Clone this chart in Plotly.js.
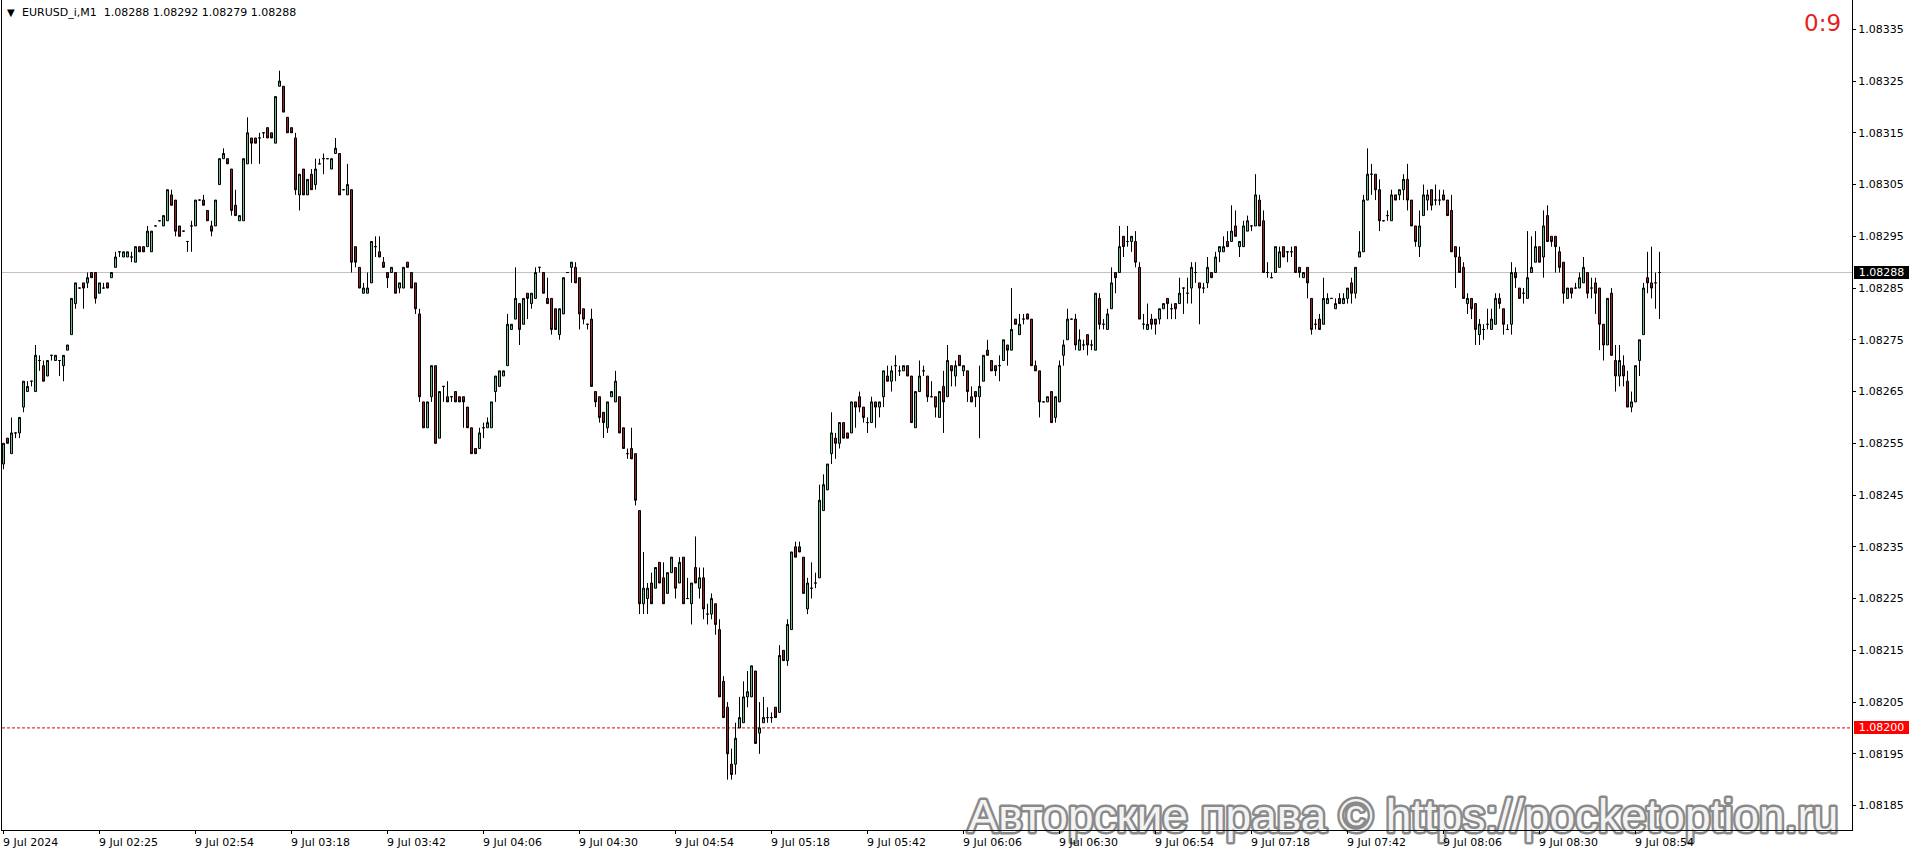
<!DOCTYPE html>
<html><head><meta charset="utf-8">
<script src="https://cdn.plot.ly/plotly-3.0.1.min.js"></script>
<style>
html,body{margin:0;padding:0;background:#fff;overflow:hidden}
#chart{width:1916px;height:854px}
text[style*="font-size: 46px"]{paint-order:stroke fill;stroke:#8a8a8a;stroke-width:5px;stroke-linejoin:round}
</style></head><body><div id="chart"></div>
<script>
// EURUSD_i, M1 candles
const open = [
1.08251,1.08256,1.08253,1.08257,1.08257,1.08262,1.08265,1.08267,1.08265,1.08271,
1.08270,1.08268,1.08272,1.08271,1.08271,1.08270,1.08273,1.08276,1.08282,1.08285,
1.08286,1.08286,1.08288,1.08288,1.08284,1.08285,1.08286,1.08287,1.08289,1.08292,
1.08291,1.08291,1.08291,1.08290,1.08293,1.08293,1.08293,1.08292,1.08297,1.08298,
1.08297,1.08298,1.08303,1.08302,1.08297,1.08296,1.08294,1.08297,1.08297,1.08302,
1.08302,1.08300,1.08297,1.08297,1.08305,1.08310,1.08310,1.08308,1.08301,1.08298,
1.08298,1.08309,1.08314,1.08314,1.08314,1.08315,1.08316,1.08315,1.08313,1.08324,
1.08324,1.08318,1.08316,1.08314,1.08303,1.08308,1.08303,1.08307,1.08305,1.08309,
1.08310,1.08310,1.08308,1.08311,1.08311,1.08304,1.08303,1.08304,1.08293,1.08289,
1.08284,1.08284,1.08286,1.08293,1.08292,1.08290,1.08288,1.08288,1.08288,1.08285,
1.08285,1.08290,1.08288,1.08286,1.08280,1.08263,1.08258,1.08264,1.08270,1.08256,
1.08266,1.08264,1.08264,1.08265,1.08264,1.08264,1.08262,1.08258,1.08254,1.08254,
1.08258,1.08258,1.08258,1.08265,1.08266,1.08268,1.08270,1.08277,1.08279,1.08282,
1.08278,1.08284,1.08282,1.08283,1.08289,1.08288,1.08283,1.08283,1.08281,1.08276,
1.08280,1.08288,1.08289,1.08289,1.08287,1.08281,1.08278,1.08279,1.08265,1.08264,
1.08261,1.08258,1.08264,1.08263,1.08264,1.08258,1.08253,1.08254,1.08253,1.08242,
1.08224,1.08225,1.08228,1.08227,1.08232,1.08229,1.08226,1.08230,1.08231,1.08228,
1.08233,1.08225,1.08224,1.08231,1.08227,1.08229,1.08222,1.08222,1.08224,1.08219,
1.08209,1.08204,1.08193,1.08193,1.08200,1.08201,1.08206,1.08206,1.08211,1.08199,
1.08201,1.08202,1.08202,1.08204,1.08203,1.08215,1.08213,1.08219,1.08235,1.08235,
1.08233,1.08223,1.08227,1.08228,1.08229,1.08242,1.08246,1.08253,1.08256,1.08255,
1.08259,1.08257,1.08257,1.08263,1.08264,1.08262,1.08259,1.08259,1.08263,1.08262,
1.08264,1.08268,1.08267,1.08270,1.08269,1.08269,1.08270,1.08268,1.08258,1.08265,
1.08269,1.08268,1.08264,1.08264,1.08260,1.08266,1.08264,1.08270,1.08268,1.08272,
1.08269,1.08269,1.08264,1.08265,1.08264,1.08267,1.08273,1.08271,1.08270,1.08270,
1.08271,1.08274,1.08273,1.08279,1.08276,1.08279,1.08280,1.08279,1.08270,1.08269,
1.08263,1.08263,1.08265,1.08260,1.08263,1.08272,1.08275,1.08279,1.08279,1.08273,
1.08274,1.08276,1.08274,1.08273,1.08283,1.08278,1.08277,1.08281,1.08288,1.08288,
1.08295,1.08294,1.08294,1.08294,1.08289,1.08278,1.08277,1.08279,1.08279,1.08279,
1.08281,1.08283,1.08281,1.08282,1.08282,1.08285,1.08284,1.08285,1.08288,1.08286,
1.08285,1.08286,1.08288,1.08288,1.08292,1.08292,1.08294,1.08294,1.08297,1.08293,
1.08293,1.08296,1.08297,1.08297,1.08302,1.08298,1.08288,1.08287,1.08288,1.08289,
1.08293,1.08292,1.08292,1.08293,1.08289,1.08287,1.08289,1.08283,1.08278,1.08279,
1.08278,1.08282,1.08283,1.08281,1.08283,1.08282,1.08283,1.08286,1.08284,1.08291,
1.08292,1.08302,1.08307,1.08307,1.08304,1.08298,1.08299,1.08298,1.08303,1.08303,
1.08304,1.08306,1.08302,1.08297,1.08293,1.08299,1.08302,1.08304,1.08302,1.08302,
1.08303,1.08302,1.08300,1.08293,1.08291,1.08289,1.08282,1.08283,1.08282,1.08276,
1.08277,1.08278,1.08277,1.08278,1.08283,1.08281,1.08277,1.08278,1.08288,1.08285,
1.08284,1.08283,1.08288,1.08290,1.08293,1.08291,1.08299,1.08295,1.08295,1.08292,
1.08290,1.08283,1.08285,1.08285,1.08285,1.08286,1.08288,1.08285,1.08286,1.08285,
1.08278,1.08274,1.08284,1.08271,1.08268,1.08270,1.08267,1.08262,1.08263,1.08271,
1.08276,1.08287,1.08286,1.08286,1.08288];
const high = [
1.08255,1.08256,1.08260,1.08257,1.08260,1.08267,1.08267,1.08267,1.08274,1.08272,
1.08271,1.08271,1.08272,1.08272,1.08271,1.08272,1.08274,1.08283,1.08286,1.08285,
1.08286,1.08288,1.08288,1.08288,1.08286,1.08286,1.08286,1.08288,1.08292,1.08292,
1.08292,1.08292,1.08292,1.08293,1.08293,1.08293,1.08297,1.08296,1.08297,1.08298,
1.08299,1.08304,1.08304,1.08302,1.08297,1.08296,1.08294,1.08298,1.08302,1.08302,
1.08303,1.08300,1.08298,1.08302,1.08310,1.08312,1.08310,1.08308,1.08304,1.08299,
1.08310,1.08318,1.08314,1.08314,1.08315,1.08315,1.08316,1.08315,1.08322,1.08327,
1.08324,1.08318,1.08316,1.08315,1.08307,1.08308,1.08306,1.08308,1.08310,1.08310,
1.08311,1.08310,1.08310,1.08314,1.08311,1.08304,1.08309,1.08304,1.08293,1.08289,
1.08286,1.08288,1.08294,1.08295,1.08295,1.08291,1.08288,1.08289,1.08288,1.08286,
1.08289,1.08290,1.08288,1.08286,1.08281,1.08263,1.08263,1.08270,1.08270,1.08265,
1.08266,1.08267,1.08264,1.08265,1.08264,1.08264,1.08262,1.08258,1.08254,1.08258,
1.08259,1.08260,1.08263,1.08268,1.08269,1.08269,1.08280,1.08278,1.08289,1.08282,
1.08283,1.08284,1.08284,1.08289,1.08289,1.08288,1.08287,1.08283,1.08281,1.08281,
1.08287,1.08288,1.08290,1.08290,1.08287,1.08281,1.08278,1.08281,1.08265,1.08264,
1.08261,1.08263,1.08265,1.08269,1.08264,1.08258,1.08254,1.08258,1.08253,1.08242,
1.08234,1.08228,1.08230,1.08231,1.08232,1.08232,1.08230,1.08233,1.08231,1.08233,
1.08233,1.08229,1.08228,1.08237,1.08231,1.08231,1.08224,1.08226,1.08224,1.08221,
1.08210,1.08205,1.08196,1.08201,1.08206,1.08209,1.08211,1.08212,1.08211,1.08205,
1.08206,1.08204,1.08203,1.08204,1.08216,1.08215,1.08221,1.08234,1.08236,1.08236,
1.08233,1.08229,1.08232,1.08230,1.08247,1.08249,1.08251,1.08261,1.08257,1.08259,
1.08259,1.08257,1.08263,1.08263,1.08265,1.08262,1.08260,1.08264,1.08263,1.08263,
1.08269,1.08270,1.08270,1.08272,1.08270,1.08270,1.08270,1.08268,1.08265,1.08271,
1.08270,1.08268,1.08267,1.08264,1.08265,1.08269,1.08274,1.08270,1.08271,1.08272,
1.08270,1.08269,1.08266,1.08265,1.08270,1.08272,1.08275,1.08271,1.08270,1.08272,
1.08275,1.08274,1.08285,1.08279,1.08280,1.08280,1.08280,1.08279,1.08271,1.08269,
1.08263,1.08264,1.08265,1.08264,1.08271,1.08275,1.08281,1.08279,1.08280,1.08277,
1.08275,1.08276,1.08275,1.08284,1.08284,1.08279,1.08281,1.08289,1.08288,1.08297,
1.08295,1.08297,1.08295,1.08296,1.08290,1.08280,1.08282,1.08280,1.08279,1.08281,
1.08282,1.08283,1.08282,1.08282,1.08287,1.08285,1.08287,1.08290,1.08290,1.08286,
1.08286,1.08291,1.08288,1.08292,1.08293,1.08295,1.08296,1.08301,1.08300,1.08294,
1.08298,1.08299,1.08297,1.08307,1.08303,1.08300,1.08290,1.08288,1.08293,1.08293,
1.08293,1.08292,1.08293,1.08293,1.08289,1.08288,1.08289,1.08283,1.08279,1.08280,
1.08287,1.08284,1.08283,1.08283,1.08284,1.08284,1.08285,1.08287,1.08289,1.08296,
1.08303,1.08312,1.08309,1.08307,1.08306,1.08298,1.08300,1.08304,1.08303,1.08304,
1.08307,1.08309,1.08302,1.08297,1.08300,1.08305,1.08304,1.08304,1.08305,1.08304,
1.08304,1.08302,1.08303,1.08293,1.08293,1.08290,1.08284,1.08283,1.08282,1.08279,
1.08278,1.08281,1.08281,1.08284,1.08284,1.08281,1.08278,1.08290,1.08289,1.08285,
1.08285,1.08296,1.08295,1.08296,1.08293,1.08300,1.08301,1.08295,1.08295,1.08293,
1.08290,1.08285,1.08285,1.08286,1.08288,1.08291,1.08288,1.08287,1.08287,1.08285,
1.08278,1.08283,1.08285,1.08274,1.08274,1.08272,1.08269,1.08265,1.08270,1.08275,
1.08286,1.08292,1.08293,1.08288,1.08292];
const low = [
1.08250,1.08255,1.08253,1.08256,1.08256,1.08261,1.08265,1.08266,1.08265,1.08269,
1.08267,1.08268,1.08271,1.08271,1.08268,1.08267,1.08273,1.08276,1.08281,1.08285,
1.08281,1.08285,1.08287,1.08282,1.08284,1.08285,1.08285,1.08287,1.08289,1.08291,
1.08291,1.08291,1.08290,1.08290,1.08292,1.08292,1.08293,1.08292,1.08297,1.08298,
1.08297,1.08298,1.08301,1.08295,1.08295,1.08296,1.08292,1.08292,1.08297,1.08302,
1.08301,1.08298,1.08295,1.08297,1.08305,1.08310,1.08309,1.08299,1.08299,1.08298,
1.08298,1.08309,1.08309,1.08313,1.08309,1.08314,1.08314,1.08314,1.08313,1.08324,
1.08319,1.08315,1.08315,1.08303,1.08300,1.08303,1.08303,1.08304,1.08304,1.08309,
1.08307,1.08310,1.08308,1.08311,1.08303,1.08304,1.08303,1.08288,1.08289,1.08285,
1.08284,1.08284,1.08286,1.08291,1.08291,1.08289,1.08285,1.08288,1.08284,1.08284,
1.08285,1.08289,1.08285,1.08280,1.08263,1.08258,1.08258,1.08263,1.08255,1.08256,
1.08263,1.08263,1.08263,1.08263,1.08263,1.08258,1.08258,1.08253,1.08253,1.08254,
1.08256,1.08258,1.08258,1.08263,1.08266,1.08268,1.08270,1.08277,1.08279,1.08274,
1.08278,1.08279,1.08281,1.08283,1.08288,1.08284,1.08282,1.08276,1.08277,1.08275,
1.08280,1.08288,1.08286,1.08286,1.08277,1.08278,1.08277,1.08266,1.08262,1.08259,
1.08256,1.08257,1.08264,1.08263,1.08257,1.08254,1.08252,1.08252,1.08243,1.08222,
1.08222,1.08222,1.08224,1.08227,1.08228,1.08224,1.08226,1.08230,1.08225,1.08228,
1.08224,1.08225,1.08220,1.08228,1.08225,1.08221,1.08220,1.08221,1.08218,1.08206,
1.08202,1.08190,1.08190,1.08191,1.08200,1.08201,1.08204,1.08206,1.08197,1.08195,
1.08201,1.08201,1.08201,1.08202,1.08203,1.08213,1.08212,1.08219,1.08233,1.08234,
1.08226,1.08222,1.08225,1.08227,1.08229,1.08242,1.08246,1.08251,1.08252,1.08254,
1.08256,1.08256,1.08257,1.08258,1.08261,1.08259,1.08257,1.08259,1.08258,1.08260,
1.08262,1.08267,1.08265,1.08267,1.08268,1.08269,1.08268,1.08259,1.08258,1.08265,
1.08268,1.08263,1.08264,1.08260,1.08260,1.08257,1.08264,1.08266,1.08266,1.08270,
1.08268,1.08263,1.08263,1.08262,1.08256,1.08267,1.08272,1.08269,1.08268,1.08267,
1.08271,1.08270,1.08273,1.08278,1.08276,1.08278,1.08279,1.08270,1.08269,1.08260,
1.08263,1.08263,1.08259,1.08259,1.08263,1.08270,1.08275,1.08279,1.08273,1.08273,
1.08273,1.08272,1.08273,1.08273,1.08277,1.08277,1.08277,1.08281,1.08284,1.08288,
1.08291,1.08293,1.08292,1.08289,1.08279,1.08277,1.08277,1.08277,1.08276,1.08278,
1.08281,1.08279,1.08279,1.08279,1.08282,1.08280,1.08282,1.08282,1.08286,1.08278,
1.08284,1.08285,1.08287,1.08288,1.08290,1.08292,1.08293,1.08294,1.08295,1.08291,
1.08293,1.08296,1.08296,1.08297,1.08297,1.08288,1.08287,1.08287,1.08288,1.08289,
1.08291,1.08290,1.08291,1.08288,1.08287,1.08287,1.08283,1.08276,1.08277,1.08277,
1.08278,1.08282,1.08283,1.08281,1.08282,1.08282,1.08282,1.08282,1.08283,1.08291,
1.08292,1.08302,1.08303,1.08302,1.08296,1.08298,1.08298,1.08298,1.08302,1.08302,
1.08302,1.08300,1.08297,1.08293,1.08291,1.08299,1.08300,1.08300,1.08301,1.08301,
1.08302,1.08299,1.08292,1.08285,1.08288,1.08283,1.08280,1.08279,1.08274,1.08274,
1.08275,1.08277,1.08277,1.08278,1.08281,1.08276,1.08277,1.08276,1.08285,1.08283,
1.08282,1.08283,1.08288,1.08290,1.08290,1.08287,1.08294,1.08293,1.08288,1.08288,
1.08282,1.08283,1.08283,1.08285,1.08285,1.08286,1.08283,1.08283,1.08280,1.08273,
1.08271,1.08274,1.08272,1.08265,1.08266,1.08266,1.08262,1.08261,1.08263,1.08268,
1.08276,1.08284,1.08283,1.08281,1.08279];
const close = [
1.08255,1.08255,1.08257,1.08257,1.08260,1.08267,1.08266,1.08267,1.08272,1.08271,
1.08267,1.08271,1.08272,1.08272,1.08271,1.08272,1.08274,1.08283,1.08286,1.08285,
1.08285,1.08287,1.08287,1.08283,1.08286,1.08285,1.08285,1.08288,1.08291,1.08292,
1.08292,1.08292,1.08291,1.08293,1.08292,1.08292,1.08296,1.08296,1.08297,1.08298,
1.08299,1.08304,1.08301,1.08296,1.08295,1.08296,1.08294,1.08297,1.08302,1.08302,
1.08301,1.08298,1.08296,1.08302,1.08310,1.08311,1.08309,1.08300,1.08299,1.08299,
1.08310,1.08315,1.08313,1.08313,1.08314,1.08315,1.08314,1.08314,1.08322,1.08325,
1.08319,1.08315,1.08315,1.08304,1.08307,1.08303,1.08306,1.08304,1.08308,1.08309,
1.08310,1.08310,1.08310,1.08312,1.08303,1.08304,1.08305,1.08290,1.08290,1.08285,
1.08285,1.08285,1.08294,1.08293,1.08291,1.08289,1.08287,1.08289,1.08284,1.08286,
1.08289,1.08289,1.08285,1.08281,1.08264,1.08258,1.08263,1.08270,1.08255,1.08265,
1.08266,1.08263,1.08264,1.08263,1.08263,1.08263,1.08258,1.08253,1.08253,1.08257,
1.08258,1.08259,1.08263,1.08268,1.08269,1.08269,1.08278,1.08278,1.08283,1.08277,
1.08283,1.08283,1.08284,1.08288,1.08289,1.08284,1.08282,1.08277,1.08277,1.08281,
1.08287,1.08288,1.08290,1.08286,1.08280,1.08279,1.08278,1.08266,1.08263,1.08260,
1.08259,1.08263,1.08265,1.08267,1.08257,1.08254,1.08253,1.08252,1.08244,1.08224,
1.08227,1.08227,1.08224,1.08231,1.08228,1.08224,1.08230,1.08233,1.08227,1.08232,
1.08224,1.08225,1.08228,1.08228,1.08229,1.08223,1.08222,1.08225,1.08220,1.08206,
1.08202,1.08195,1.08191,1.08198,1.08202,1.08206,1.08207,1.08212,1.08197,1.08200,
1.08202,1.08202,1.08202,1.08202,1.08214,1.08213,1.08220,1.08234,1.08233,1.08234,
1.08226,1.08228,1.08227,1.08228,1.08244,1.08247,1.08251,1.08257,1.08255,1.08259,
1.08256,1.08256,1.08263,1.08262,1.08262,1.08260,1.08259,1.08263,1.08262,1.08263,
1.08269,1.08267,1.08269,1.08270,1.08269,1.08270,1.08268,1.08259,1.08265,1.08268,
1.08269,1.08264,1.08264,1.08262,1.08265,1.08263,1.08271,1.08269,1.08270,1.08270,
1.08270,1.08265,1.08263,1.08264,1.08266,1.08272,1.08272,1.08269,1.08269,1.08270,
1.08275,1.08273,1.08277,1.08278,1.08278,1.08279,1.08279,1.08270,1.08269,1.08263,
1.08263,1.08264,1.08259,1.08264,1.08270,1.08274,1.08279,1.08279,1.08274,1.08275,
1.08274,1.08274,1.08274,1.08284,1.08278,1.08278,1.08280,1.08286,1.08287,1.08293,
1.08293,1.08294,1.08295,1.08290,1.08279,1.08278,1.08278,1.08278,1.08278,1.08281,
1.08282,1.08282,1.08281,1.08281,1.08284,1.08285,1.08284,1.08289,1.08288,1.08285,
1.08285,1.08289,1.08287,1.08291,1.08293,1.08293,1.08293,1.08296,1.08295,1.08294,
1.08297,1.08298,1.08297,1.08303,1.08297,1.08288,1.08288,1.08287,1.08293,1.08292,
1.08291,1.08292,1.08292,1.08288,1.08288,1.08288,1.08286,1.08277,1.08278,1.08277,
1.08283,1.08283,1.08283,1.08282,1.08282,1.08283,1.08285,1.08284,1.08289,1.08292,
1.08302,1.08307,1.08307,1.08304,1.08298,1.08298,1.08299,1.08303,1.08302,1.08304,
1.08306,1.08302,1.08297,1.08294,1.08297,1.08303,1.08303,1.08301,1.08302,1.08302,
1.08302,1.08299,1.08292,1.08291,1.08288,1.08283,1.08283,1.08281,1.08277,1.08278,
1.08277,1.08278,1.08279,1.08283,1.08282,1.08278,1.08277,1.08288,1.08287,1.08283,
1.08284,1.08287,1.08289,1.08293,1.08290,1.08297,1.08294,1.08294,1.08293,1.08289,
1.08284,1.08285,1.08284,1.08285,1.08287,1.08289,1.08284,1.08285,1.08284,1.08278,
1.08274,1.08283,1.08272,1.08268,1.08271,1.08268,1.08262,1.08263,1.08270,1.08275,
1.08285,1.08286,1.08285,1.08286,1.08288];

// time axis labels and the bar each one marks
const labelBars = [0,24,48,72,96,120,144,168,192,216,240,264,288,312,336,360,384,408];
const labelTexts = ["9 Jul 2024","9 Jul 02:25","9 Jul 02:54","9 Jul 03:18","9 Jul 03:42","9 Jul 04:06",
  "9 Jul 04:30","9 Jul 04:54","9 Jul 05:18","9 Jul 05:42","9 Jul 06:06","9 Jul 06:30",
  "9 Jul 06:54","9 Jul 07:18","9 Jul 07:42","9 Jul 08:06","9 Jul 08:30","9 Jul 08:54"];
const priceTicks = [1.08185,1.08195,1.08205,1.08215,1.08225,1.08235,1.08245,1.08255,
  1.08265,1.08275,1.08285,1.08295,1.08305,1.08315,1.08325,1.08335];
const bidPrice = 1.08288;
const levelPrice = 1.08200;
const headerSymbol = "EURUSD_i,M1";
const headerOHLC = ["1.08288","1.08292","1.08279","1.08288"];
const countdown = "0:9";
const watermark = "Авторские права © https://pocketoption.ru";

// ---- layout geometry (pixels) ----
const PL = 2, PR = 1852, PB = 830;           // plot area left/right/bottom
const PW = PR - PL;
const BAR = 4;                               // pixels per bar
const x0 = -(3.5 - PL) / BAR;                // first bar centred at pixel 3.5
const x1 = x0 + PW / BAR;
const PXPERPRICE = 517500;                   // 51.75 px per 0.0001
const refPrice = 1.08335, refY = 29.3;
const yTop = refPrice + refY / PXPERPRICE;
const yBot = refPrice - (PB - refY) / PXPERPRICE;
const px = v => (v - PL) / PW;
const py = v => 1 - v / PB;

const barIndex = open.map((_, i) => i);
const font11 = {family: "DejaVu Sans, Verdana, sans-serif", size: 11, color: "#000"};

const traces = [
  {
    type: "candlestick", x: barIndex, open: open, high: high, low: low, close: close,
    increasing: {line: {color: "#000", width: 1}, fillcolor: "#66bb85"},
    decreasing: {line: {color: "#000", width: 1}, fillcolor: "#922424"},
    whiskerwidth: 0, hoverinfo: "skip", showlegend: false
  },
  {
    type: "scatter", mode: "text", x: [0.522], y: [0.012], xaxis: "x2", yaxis: "y2",
    text: [watermark], textposition: "middle right", cliponaxis: false,
    textfont: {family: "Liberation Sans, Arial, sans-serif", size: 46, color: "#f3f3f3"},
    hoverinfo: "skip", showlegend: false
  }
];

const annotations = labelTexts.map((t, k) => ({
  x: labelBars[k], xref: "x", y: py(842), yref: "paper",
  xanchor: "left", yanchor: "middle", xshift: -3, showarrow: false,
  text: t, font: font11
}));
annotations.push(
  {x: px(11), xref: "paper", y: py(12), yref: "paper", xanchor: "center", yanchor: "middle",
   showarrow: false, text: "▼", font: {family: "DejaVu Sans", size: 10, color: "#000"}},
  {x: px(19.7), xref: "paper", y: py(12.7), yref: "paper", xanchor: "left", yanchor: "middle",
   showarrow: false, text: headerSymbol + "\u00a0\u00a0" + headerOHLC.join(" "), font: font11},
  {x: px(1843), xref: "paper", y: py(23), yref: "paper", xanchor: "right", yanchor: "middle",
   showarrow: false, text: countdown, font: {family: "DejaVu Sans, Verdana, sans-serif", size: 23, color: "#e61e1e"}},
  {x: px(1854), xref: "paper", y: bidPrice, yref: "y", xanchor: "left", yanchor: "middle",
   showarrow: false, text: bidPrice.toFixed(5), width: 55, height: 13, borderpad: 0, borderwidth: 0,
   bgcolor: "#000", align: "center", font: {family: font11.family, size: 11, color: "#fff"}},
  {x: px(1854), xref: "paper", y: levelPrice, yref: "y", xanchor: "left", yanchor: "middle",
   showarrow: false, text: levelPrice.toFixed(5), width: 55, height: 13, borderpad: 0, borderwidth: 0,
   bgcolor: "#ff0000", align: "center", font: {family: font11.family, size: 11, color: "#fff"}}
);

const layout = {
  width: 1916, height: 854,
  margin: {l: PL, r: 1916 - PR, t: 0, b: 854 - PB, pad: 0},
  paper_bgcolor: "#fff", plot_bgcolor: "#fff",
  showlegend: false, dragmode: false,
  boxgap: 0.5, boxgroupgap: 0,
  xaxis: {
    range: [x0, x1], showgrid: false, zeroline: false,
    showline: true, linecolor: "#000", linewidth: 1,
    ticks: "outside", ticklen: 3, tickwidth: 1, tickcolor: "#000",
    tickmode: "array", tickvals: labelBars, showticklabels: false,
    rangeslider: {visible: false}, fixedrange: true
  },
  yaxis: {
    side: "right", range: [yBot, yTop], showgrid: false, zeroline: false,
    showline: true, mirror: true, linecolor: "#000", linewidth: 1,
    ticks: "outside", ticklen: 3, tickwidth: 1, tickcolor: "#000",
    tickmode: "array", tickvals: priceTicks, tickformat: ".5f",
    tickfont: font11, fixedrange: true
  },
  xaxis2: {overlaying: "x", range: [0, 1], visible: false, fixedrange: true},
  yaxis2: {overlaying: "y", range: [0, 1], visible: false, fixedrange: true},
  shapes: [
    {type: "line", xref: "paper", x0: 0, x1: 1, yref: "y", y0: bidPrice, y1: bidPrice,
     line: {color: "#c0c0c0", width: 1}, layer: "below"},
    {type: "line", xref: "paper", x0: 0, x1: 1, yref: "y", y0: levelPrice, y1: levelPrice,
     line: {color: "#e00000", width: 1, dash: "3px,2px"}, layer: "below"}
  ],
  annotations: annotations
};

Plotly.newPlot("chart", traces, layout, {staticPlot: true, displayModeBar: false});
</script></body></html>
